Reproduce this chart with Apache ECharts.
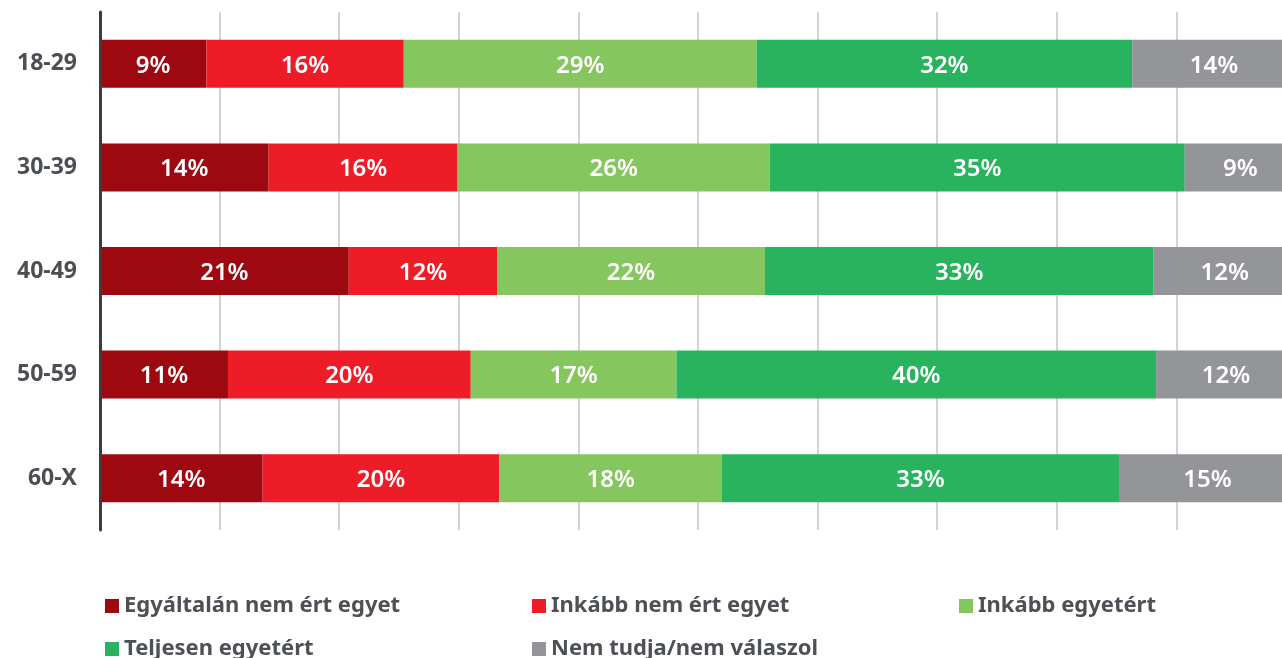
<!DOCTYPE html>
<html>
<head>
<meta charset="utf-8">
<title>Korcsoportok szerinti megoszlás</title>
<script src="https://cdn.jsdelivr.net/npm/echarts@6/dist/echarts.min.js"></script>
<style>
  html, body { margin: 0; padding: 0; background: #ffffff; overflow: hidden; }
  /* the original is cut off on the right: 100% sits just past the page edge */
  #chart { width: 1296px; height: 658px; }
</style>
</head>
<body>
<div id="chart"></div>
<script>
// age groups, top to bottom
var categories = ['18-29', '30-39', '40-49', '50-59', '60-X'];

// series names (legend order)
var seriesNames = [
  'Egyáltalán nem ért egyet',
  'Inkább nem ért egyet',
  'Inkább egyetért',
  'Teljesen egyetért',
  'Nem tudja/nem válaszol'
];

// segment shares as drawn
var egyaltalanNem = [8.9, 14.1, 20.8, 10.7, 13.6];
var inkabbNem = [16.5, 15.8, 12.4, 20.3, 19.8];
var inkabbIgen = [29.5, 26.1, 22.4, 17.2, 18.6];
var teljesen = [31.4, 34.7, 32.5, 40.1, 33.2];
var nemTudja = [13.7, 9.3, 11.9, 11.7, 14.8];

// percentages printed on the bars
var egyaltalanNemLabel = [9, 14, 21, 11, 14];
var inkabbNemLabel = [16, 16, 12, 20, 20];
var inkabbIgenLabel = [29, 26, 22, 17, 18];
var teljesenLabel = [32, 35, 33, 40, 33];
var nemTudjaLabel = [14, 9, 12, 12, 15];

var colors = ['#9e0811', '#ed1c26', '#86c65e', '#29b35e', '#949599'];

var values = [egyaltalanNem, inkabbNem, inkabbIgen, teljesen, nemTudja];
var labels = [egyaltalanNemLabel, inkabbNemLabel, inkabbIgenLabel, teljesenLabel, nemTudjaLabel];

var font = '"Noto Sans", "DejaVu Sans", sans-serif';

var series = [];
for (var i = 0; i < seriesNames.length; i++) {
  (function (idx) {
    series.push({
      name: seriesNames[idx],
      type: 'bar',
      stack: 'total',
      barWidth: 48,
      color: colors[idx],
      data: values[idx],
      label: {
        show: true,
        position: 'inside',
        offset: [0, 2],
        color: '#ffffff',
        fontFamily: font,
        fontSize: 24,
        fontWeight: 600,
        formatter: function (p) {
          return labels[idx][p.dataIndex] + '%';
        }
      },
      emphasis: { disabled: true }
    });
  })(i);
}

// one legend per item so the columns line up like the original
var legendPos = [[105, 593], [532, 593], [959, 593], [105, 636], [532, 636]];
var legends = seriesNames.map(function (name, k) {
  return {
    data: [name],
    left: legendPos[k][0],
    top: legendPos[k][1],
    padding: 0,
    icon: 'rect',
    itemWidth: 14,
    itemHeight: 14,
    selectedMode: false,
    textStyle: {
      color: '#4d5155',
      fontFamily: font,
      fontSize: 22,
      lineHeight: 26,
      fontWeight: 'bold'
    }
  };
});

var chart = echarts.init(document.getElementById('chart'));
chart.setOption({
  animation: false,
  backgroundColor: '#ffffff',
  legend: legends,
  grid: {
    left: 100,
    right: 0,
    top: 12,
    bottom: 128,
    containLabel: false
  },
  xAxis: {
    type: 'value',
    min: 0,
    max: 100,
    interval: 10,
    axisLabel: { show: false },
    axisLine: { show: false },
    axisTick: { show: false },
    splitLine: { show: true, lineStyle: { color: '#d3d3d3', width: 2 } }
  },
  yAxis: {
    type: 'category',
    inverse: true,
    data: categories,
    axisTick: { show: false },
    axisLine: { show: true, lineStyle: { color: '#3a3d40', width: 3 } },
    axisLabel: {
      margin: 23,
      color: '#4b4f53',
      fontFamily: font,
      fontSize: 23,
      fontWeight: 'bold'
    },
    z: 5
  },
  series: series
});
</script>
</body>
</html>
